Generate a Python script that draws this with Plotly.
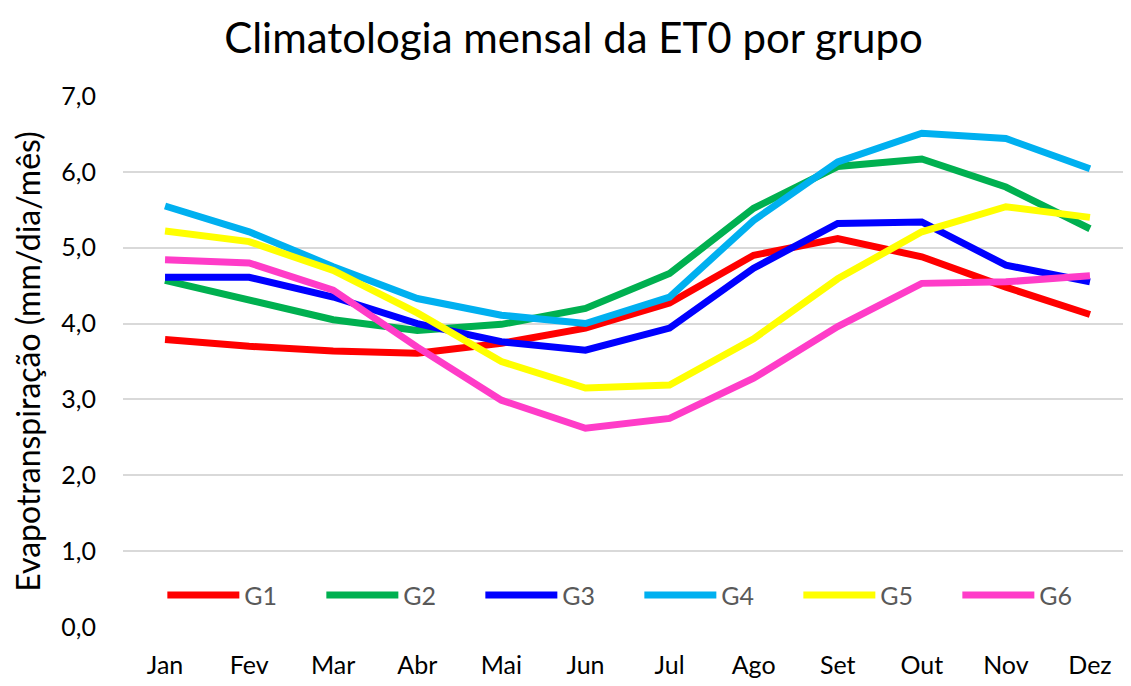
import plotly.graph_objects as go

months = ["Jan", "Fev", "Mar", "Abr", "Mai", "Jun", "Jul", "Ago", "Set", "Out", "Nov", "Dez"]
G1 = [3.79, 3.70, 3.64, 3.61, 3.74, 3.94, 4.27, 4.90, 5.12, 4.88, 4.48, 4.12]
G2 = [4.57, 4.31, 4.05, 3.91, 3.99, 4.20, 4.66, 5.52, 6.07, 6.17, 5.80, 5.25]
G3 = [4.61, 4.61, 4.35, 4.00, 3.76, 3.65, 3.94, 4.73, 5.32, 5.34, 4.77, 4.55]
G4 = [5.55, 5.21, 4.75, 4.33, 4.11, 4.00, 4.35, 5.36, 6.13, 6.51, 6.44, 6.04]
G5 = [5.22, 5.08, 4.70, 4.14, 3.50, 3.15, 3.19, 3.80, 4.59, 5.21, 5.54, 5.40]
G6 = [4.84, 4.80, 4.44, 3.69, 2.99, 2.62, 2.75, 3.28, 3.96, 4.53, 4.55, 4.63]

series = [("G1", G1, "#FF0000"), ("G2", G2, "#00B050"), ("G3", G3, "#0000FF"),
          ("G4", G4, "#00B0F0"), ("G5", G5, "#FFFF00"), ("G6", G6, "#FF3CC8")]

font_family = "Lato, 'Open Sans', sans-serif"

fig = go.Figure()
for name, vals, color in series:
    fig.add_trace(go.Scatter(x=months, y=vals, name=name, mode="lines",
                             line=dict(color=color, width=7)))

fig.update_layout(
    width=1131, height=686,
    paper_bgcolor="white", plot_bgcolor="white",
    margin=dict(l=115, r=7, t=88, b=67),
    title=dict(text="Climatologia mensal da ET0 por grupo", x=0.5, xanchor="center",
               y=0.956, yanchor="middle",
               font=dict(family=font_family, size=42, color="black")),
    font=dict(family=font_family, color="black"),
    xaxis=dict(type="category", range=[-0.5, 11.5], showgrid=False, zeroline=False,
               showline=False, ticks="", automargin=False, ticklabelstandoff=21,
               tickfont=dict(size=25, color="black")),
    yaxis=dict(range=[0, 7], dtick=1, tickformat=".1f",
               showgrid=True, gridcolor="#D9D9D9", gridwidth=2, zeroline=False,
               showline=False, ticks="", automargin=False, ticklabelstandoff=26,
               tickfont=dict(size=25, color="black"),
               title=dict(text="Evapotranspiração (mm/dia/mês)", font=dict(size=32, color="black"),
                          standoff=16)),
    separators=",.",
    legend=dict(orientation="h", x=0.039, y=0.06, xanchor="left", yanchor="middle",
                bgcolor="rgba(0,0,0,0)", font=dict(size=25, color="#595959"),
                entrywidth=72, entrywidthmode="pixels", itemwidth=72),
    showlegend=True,
)

fig.write_html("out.html")
